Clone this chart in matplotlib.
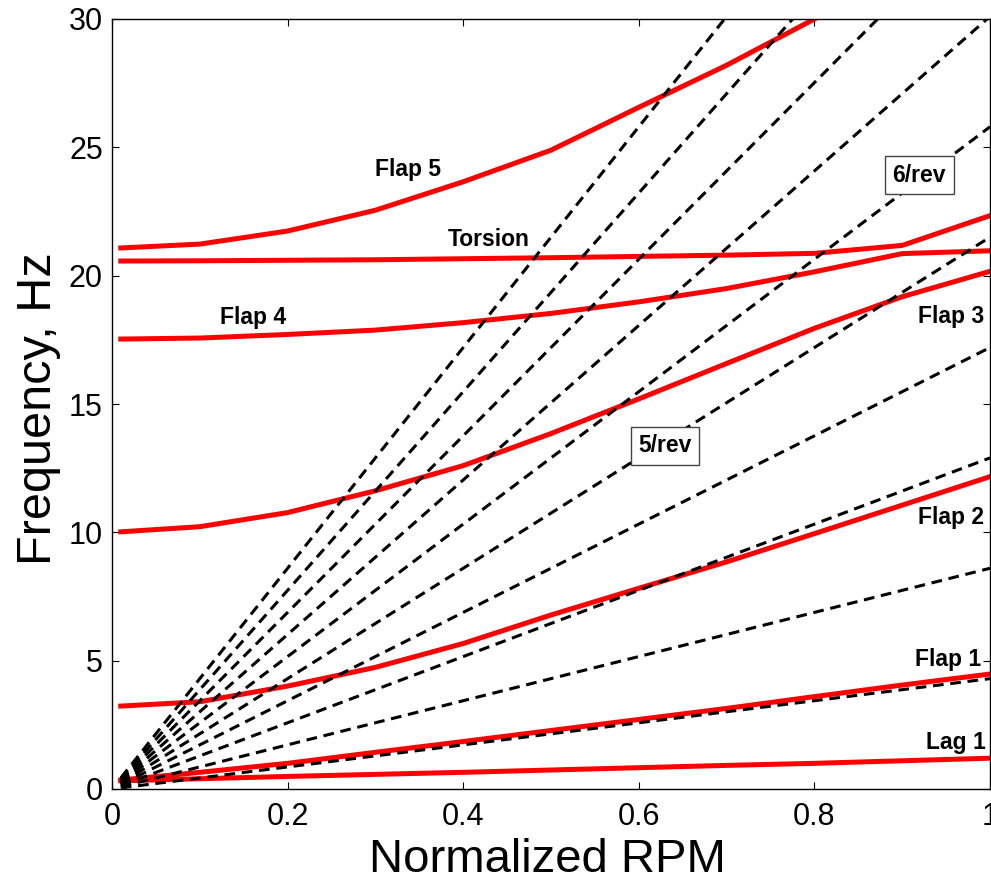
import matplotlib
matplotlib.use("Agg")
import matplotlib.pyplot as plt
import numpy as np

# ---------------- data ----------------
rpm = [0.01, 0.1, 0.2, 0.3, 0.4, 0.5, 0.6, 0.7, 0.8, 0.9, 1.0]

lag1    = [0.32, 0.40, 0.49, 0.57, 0.65, 0.74, 0.83, 0.92, 1.00, 1.10, 1.20]
flap1   = [0.35, 0.65, 1.00, 1.43, 1.85, 2.28, 2.71, 3.14, 3.60, 4.05, 4.48]
flap2   = [3.23, 3.40, 4.01, 4.74, 5.67, 6.78, 7.82, 8.85, 9.95, 11.06, 12.17]
flap3   = [10.02, 10.22, 10.77, 11.62, 12.60, 13.85, 15.20, 16.58, 17.95, 19.18, 20.17]
flap4   = [17.53, 17.57, 17.71, 17.88, 18.17, 18.53, 18.98, 19.50, 20.15, 20.86, 20.97]
torsion = [20.57, 20.58, 20.60, 20.62, 20.66, 20.70, 20.75, 20.80, 20.87, 21.18, 22.34]
flap5_rpm = [0.01, 0.1, 0.2, 0.3, 0.4, 0.5, 0.6, 0.7, 0.8]
flap5   = [21.08, 21.23, 21.74, 22.55, 23.66, 24.89, 26.56, 28.20, 30.00]

rev_rpm = [0.01, 1.0]            # extent of the n/rev lines
one_rev_hz = 4.3                 # 1/rev frequency at normalized RPM = 1
harmonics = [1, 2, 3, 4, 5, 6, 7, 8, 9, 10]

mode_labels = ["Flap 5", "Torsion", "Flap 4", "Flap 3", "Flap 2", "Flap 1", "Lag 1"]
mode_label_x = [0.337, 0.429, 0.161, 0.956, 0.956, 0.952, 0.961]
mode_label_y = [24.15, 21.39, 18.37, 18.40, 10.58, 5.03, 1.82]

rev_labels = ["5/rev", "6/rev"]
rev_label_x = [0.630, 0.9195]
rev_label_y = [13.37, 23.91]

xticks = [0, 0.2, 0.4, 0.6, 0.8, 1]
xticklabels = ["0", "0.2", "0.4", "0.6", "0.8", "1"]
yticks = [0, 5, 10, 15, 20, 25, 30]

# ---------------- plot ----------------
plt.rcParams['font.family'] = ['Liberation Sans', 'DejaVu Sans']

fig = plt.figure(figsize=(9.91, 8.75), dpi=100)
ax = fig.add_axes([112/991, (875-789)/875, 878/991, 770/875])

red = (1.0, 0.0, 0.0)
for series, xs in [(lag1, rpm), (flap1, rpm), (flap2, rpm), (flap3, rpm),
                   (flap4, rpm), (torsion, rpm), (flap5, flap5_rpm)]:
    ax.plot(xs, series, color=red, lw=3.6, zorder=2, solid_joinstyle='miter')

rx = np.array(rev_rpm)
for n in harmonics:
    ax.plot(rx, n * one_rev_hz * rx, color='black', lw=2.2,
            linestyle=(0, (3.5, 2.2)), zorder=3)

for t, x, y in zip(mode_labels, mode_label_x, mode_label_y):
    ax.text(x, y, t, ha='center', va='center', fontsize=16.5,
            fontweight='bold', zorder=5)

for t, x, y in zip(rev_labels, rev_label_x, rev_label_y):
    ax.text(x, y, t, ha='center', va='center', fontsize=16.5,
            fontweight='bold', zorder=6,
            bbox=dict(boxstyle='square,pad=0.33', facecolor='white',
                      edgecolor='#444444', linewidth=1.0))

ax.set_xlim(0, 1)
ax.set_ylim(0, 30)
ax.set_xticks(xticks)
ax.set_xticklabels(xticklabels)
ax.set_yticks(yticks)
ax.tick_params(direction='in', length=5, width=0.8, top=True, right=True,
               labelsize=22)
ax.tick_params(axis='x', pad=9.5)
ax.tick_params(axis='y', pad=6.5)
for s in ax.spines.values():
    s.set_linewidth(1.0)

ax.set_xlabel("Normalized RPM", fontsize=34)
ax.set_ylabel("Frequency, Hz", fontsize=35)
ax.xaxis.set_label_coords(0.496, -0.064)
ax.yaxis.set_label_coords(-0.058, 0.494)

fig.savefig("out.png", dpi=100)
